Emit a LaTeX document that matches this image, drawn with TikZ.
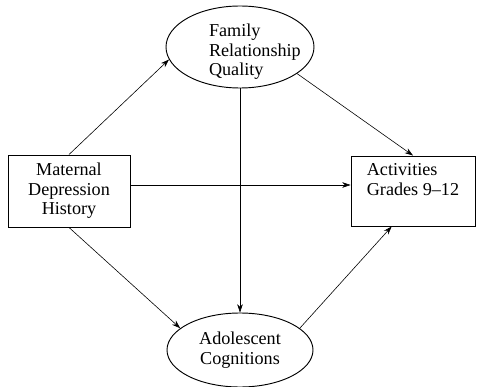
\documentclass[tikz,border=0pt]{standalone}
\usepackage{fontspec}
\setmainfont{Liberation Serif}
\usepackage{tikz}
\usetikzlibrary{shapes,arrows.meta,positioning,calc}

\begin{document}
\begin{tikzpicture}[
        box/.style={rectangle, draw, line width=0.8pt, inner sep=0pt, font=\fontsize{15.5}{16.6}\selectfont},
        oval/.style={ellipse, draw, line width=0.8pt, inner sep=0pt, font=\fontsize{15.5}{16.6}\selectfont},
        arrow/.style={->, line width=0.5pt, >={Stealth[length=2.5mm,width=1.7mm]}}]

        \useasboundingbox (0,0) rectangle (14.46,-11.61);

        \node[box, minimum width=3.66cm, minimum height=2.16cm, align=center] (MDH) at (2.07,-5.73) {Maternal\\Depression\\History};
        \node[box, minimum width=3.72cm, minimum height=2.1cm, align=left] (ACT) at (12.39,-5.73) {Activities\\Grades 9--12\\[0.1cm]};
        \node[oval, minimum width=4.44cm, minimum height=2.46cm] (FRQ) at (7.2,-1.41)
            {\makebox[0pt][l]{\hspace*{-0.93cm}\smash{\raisebox{-0.29cm}{\begin{tabular}{@{}l@{}}Family\\Relationship\\Quality\end{tabular}}}}};
        \node[oval, minimum width=4.38cm, minimum height=2.22cm, align=center] (AC) at (7.2,-10.5) {Adolescent\\Cognitions};

        \draw[arrow] (MDH.north) -- (FRQ.190);
        \draw[arrow] (MDH.south) -- (AC.160);
        \draw[arrow] ([yshift=0.18cm]MDH.east) -- ([yshift=0.18cm]ACT.west);
        \draw[arrow] (FRQ.south) -- (AC.north);
        \draw[arrow] (FRQ.-25) -- (ACT.north);
        \draw[arrow] (AC.20) -- (ACT.-121);

    \end{tikzpicture}
\end{document}
